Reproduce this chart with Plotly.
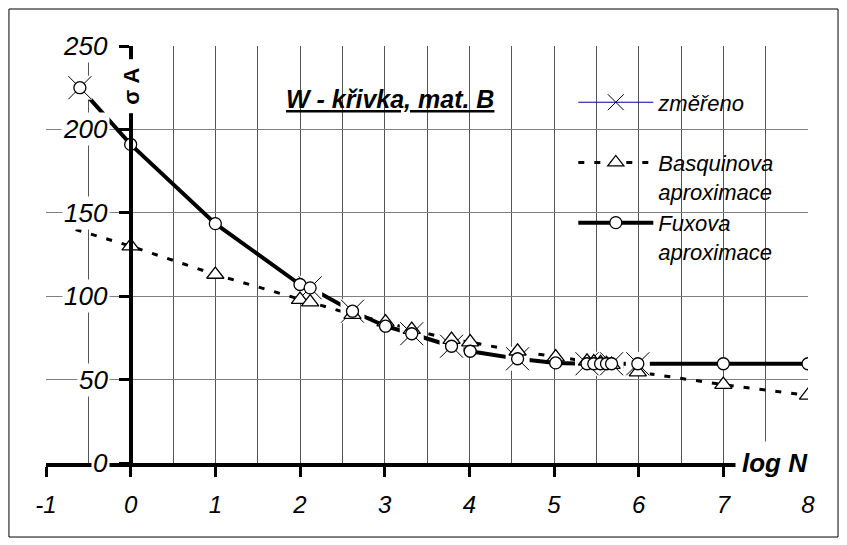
import plotly.graph_objects as go

# ---------------- data ----------------
basq_x = [-0.65, 0, 1, 2, 2.12, 2.62, 3.01, 3.32, 3.79, 4.01, 4.57, 5.02,
          5.39, 5.47, 5.55, 5.62, 5.68, 5.99, 7, 8]
basq_y = [140, 130, 113, 98, 96.5, 89, 84.5, 80, 74, 72.5, 67, 63.5,
          61, 60.5, 60, 59.5, 59, 54.5, 47, 40.5]
basq_mx = basq_x[1:]
basq_my = basq_y[1:]

fux_x = [-0.6, 0, 1, 2, 2.12, 2.62, 3.01, 3.32, 3.79, 4.01, 4.57, 5.02,
         5.39, 5.47, 5.55, 5.62, 5.68, 5.99, 7, 8]
fux_y = [225, 191, 143.5, 107, 105, 91, 82, 77.5, 70, 67, 62.5, 60,
         59.5, 59.5, 59.5, 59.5, 59.5, 59.5, 59.5, 59.5]

meas_x = [-0.6, 2.12, 2.62, 3.32, 3.79, 4.57, 5.39, 5.68, 5.99]
meas_y = [225, 105, 91, 77.5, 70, 62.5, 59.5, 59.5, 59.5]

x_ticks = [-1, 0, 1, 2, 3, 4, 5, 6, 7, 8]
x_tick_text = ["-1", "0", "1", "2", "3", "4", "5", "6", "7", "8"]
y_ticks = [0, 50, 100, 150, 200, 250]
y_tick_text = ["0", "50", "100", "150", "200", "250"]

title_text = "W - křivka, mat. B"
name_meas = "změřeno"
name_basq = "Basquinova<br>aproximace"
name_fux = "Fuxova<br>aproximace"

FONT = "Liberation Sans, Arial, sans-serif"

fig = go.Figure()

# lines first (Excel draws all lines, then markers)
fig.add_trace(go.Scatter(x=basq_x, y=basq_y, mode="lines", showlegend=False,
                         line=dict(color="black", width=3, dash="6px,10px"),
                         hoverinfo="skip"))
fig.add_trace(go.Scatter(x=fux_x, y=fux_y, mode="lines", showlegend=False,
                         line=dict(color="black", width=4),
                         hoverinfo="skip"))
# white background of the X markers
fig.add_trace(go.Scatter(x=meas_x, y=meas_y, mode="markers", showlegend=False,
                         marker=dict(symbol="square", size=24, color="white",
                                     line=dict(width=0)),
                         hoverinfo="skip"))
fig.add_trace(go.Scatter(x=meas_x, y=meas_y, mode="markers", showlegend=False,
                         marker=dict(symbol="x-thin-open", size=23, color="black",
                                     line=dict(color="black", width=1))))
fig.add_trace(go.Scatter(x=basq_mx, y=basq_my, mode="markers", showlegend=False,
                         marker=dict(symbol="triangle-up", size=15, color="white",
                                     line=dict(color="black", width=1.3))))
fig.add_trace(go.Scatter(x=fux_x, y=fux_y, mode="markers", showlegend=False,
                         marker=dict(symbol="circle", size=12, color="white",
                                     line=dict(color="black", width=1.3))))

# legend entries
fig.add_trace(go.Scatter(x=[None], y=[None], mode="lines+markers",
                         name=name_meas + "<br>\u00a0",
                         line=dict(color="#0000b0", width=1),
                         marker=dict(symbol="x-thin-open", size=16, color="black",
                                     line=dict(color="black", width=1))))
fig.add_trace(go.Scatter(x=[None], y=[None], mode="lines+markers",
                         name=name_basq,
                         line=dict(color="black", width=3, dash="6px,10px"),
                         marker=dict(symbol="triangle-up", size=14, color="white",
                                     line=dict(color="black", width=1.3))))
fig.add_trace(go.Scatter(x=[None], y=[None], mode="lines+markers",
                         name=name_fux,
                         line=dict(color="black", width=4),
                         marker=dict(symbol="circle", size=12, color="white",
                                     line=dict(color="black", width=1.3))))

annotations = []
for v, t in zip(y_ticks, y_tick_text):
    annotations.append(dict(x=-0.244, y=v, xref="x", yref="y", text=t,
                            showarrow=False, xanchor="right", yanchor="middle",
                            bgcolor="white", borderpad=1,
                            font=dict(family=FONT, size=26, style="italic",
                                      color="black")))
annotations.append(dict(x=0, y=226, xref="x", yref="y", text="σ A",
                        textangle=-90, showarrow=False, bgcolor="white",
                        borderpad=8,
                        font=dict(family=FONT, size=22, weight="bold",
                                  color="black")))
annotations.append(dict(x=8, y=0, xref="x", yref="y", text="log N",
                        showarrow=False, xanchor="right", yanchor="middle",
                        xshift=7,
                        bgcolor="white", borderpad=6,
                        font=dict(family=FONT, size=26, weight="bold",
                                  style="italic", color="black")))
annotations.append(dict(x=0.452, y=0.872, xref="paper", yref="paper",
                        text="<u>" + title_text + "</u>", showarrow=False,
                        xanchor="center", yanchor="middle",
                        font=dict(family=FONT, size=25, weight="bold",
                                  style="italic", color="black")))

shapes = [
    # title box
    dict(type="rect", xref="paper", yref="paper", x0=0.291, x1=0.638,
         y0=0.808, y1=0.952, fillcolor="white", line=dict(width=0),
         layer="between"),
    # legend box
    dict(type="rect", xref="paper", yref="paper", x0=0.685, x1=0.980,
         y0=0.451, y1=0.911, fillcolor="white", line=dict(width=0),
         layer="between"),
    # outer frame
    dict(type="rect", xref="paper", yref="paper", x0=-0.0486, x1=1.0394,
         y0=-0.1775, y1=1.0887, fillcolor="rgba(0,0,0,0)",
         line=dict(color="black", width=1), layer="above"),
]

fig.update_layout(
    width=847, height=545,
    template="none",
    margin=dict(l=38, r=47, t=38, b=90, autoexpand=False),
    paper_bgcolor="white", plot_bgcolor="white",
    font=dict(family=FONT, color="black"),
    showlegend=True,
    legend=dict(x=0.692, y=0.915, xanchor="left", yanchor="top",
                bgcolor="rgba(0,0,0,0)", borderwidth=0,
                font=dict(family=FONT, size=22, style="italic", color="black"),
                valign="top", itemwidth=75, tracegroupgap=0,
                traceorder="normal"),
    xaxis=dict(range=[-1, 8], tickvals=x_ticks, ticktext=x_tick_text,
               showline=True, linecolor="black", linewidth=4,
               ticks="outside", ticklen=10, tickwidth=3, tickcolor="black",
               tickfont=dict(family=FONT, size=24, style="italic",
                             color="black"),
               ticklabelstandoff=7,
               showgrid=True, gridcolor="#555555", gridwidth=1,
               minor=dict(dtick=0.5, showgrid=True, gridcolor="#555555",
                          gridwidth=1, ticks=""),
               zeroline=False, automargin=False, fixedrange=True),
    yaxis=dict(range=[0, 250], tickvals=y_ticks, showticklabels=False,
               anchor="free", position=1 / 9,
               showline=True, linecolor="black", linewidth=4,
               ticks="outside", ticklen=10, tickwidth=3, tickcolor="black",
               showgrid=True, gridcolor="#808080", gridwidth=1,
               zeroline=False, automargin=False, fixedrange=True),
    annotations=annotations,
    shapes=shapes,
)

fig.write_html("out.html")
